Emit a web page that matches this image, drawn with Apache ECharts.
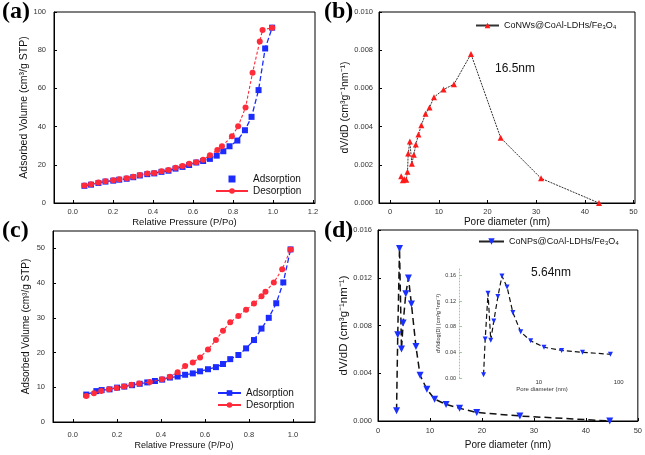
<!DOCTYPE html>
<html>
<head>
<meta charset="utf-8">
<script src="https://cdn.jsdelivr.net/npm/echarts@6/dist/echarts.min.js"></script>
<style>
html, body { margin: 0; padding: 0; background: #fff; }
#chart { width: 645px; height: 455px; }
</style>
</head>
<body>
<div id="chart"></div>
<script>
// (a) isotherm, CoNWs sample
var aAdsP = [0.058,0.091,0.128,0.163,0.202,0.232,0.269,0.302,0.335,0.372,0.407,0.443,0.478,0.513,0.548,0.581,0.617,0.651,0.685,0.719,0.752,0.783,0.822,0.860,0.893,0.928,0.961,0.996];
var aAdsV = [9.0,9.6,10.5,11.2,11.7,12.2,12.7,13.5,14.4,15.1,15.5,16.3,16.9,18.0,18.9,19.9,21.2,22.0,23.1,24.8,27.1,29.7,32.7,38.1,45.1,59.1,80.9,91.8];
var aDesP = [0.058,0.091,0.128,0.163,0.202,0.232,0.269,0.302,0.335,0.372,0.407,0.443,0.478,0.513,0.548,0.581,0.617,0.651,0.685,0.722,0.745,0.795,0.826,0.863,0.898,0.934,0.948,0.996];
var aDesV = [9.1,9.8,10.7,11.4,11.9,12.4,12.9,13.8,14.7,15.4,15.7,16.6,17.3,18.4,19.4,20.5,21.3,22.7,25.0,27.8,29.7,35.0,40.2,50.0,68.2,84.6,90.6,91.8];

// (b) pore size distribution
var bD = [2.26,2.6,2.9,3.3,3.56,3.7,4.04,4.45,4.86,5.27,5.8,6.4,7.26,8.08,9.0,10.96,13.1,16.6,22.7,31.0,42.9];
var bV = [0.0014,0.00119,0.00124,0.00122,0.00164,0.00259,0.00322,0.00206,0.00253,0.00306,0.00358,0.00407,0.00467,0.005,0.00554,0.00594,0.00622,0.0078,0.00341,0.00129,0.0];

// (c) isotherm, CoNPs sample
var cAdsP = [0.061,0.107,0.131,0.167,0.201,0.234,0.269,0.304,0.338,0.373,0.406,0.441,0.476,0.51,0.545,0.578,0.614,0.65,0.682,0.715,0.752,0.787,0.823,0.857,0.89,0.924,0.956,0.989];
var cAdsV = [7.9,8.9,9.2,9.4,9.9,10.2,10.6,11.0,11.4,11.8,12.2,12.8,13.1,13.6,14.0,14.6,15.2,15.8,16.7,18.1,19.3,21.2,23.6,26.9,30.0,34.2,40.2,49.7];
var cDesP = [0.061,0.096,0.129,0.164,0.198,0.233,0.266,0.301,0.35,0.405,0.441,0.476,0.51,0.545,0.578,0.614,0.65,0.682,0.715,0.752,0.787,0.823,0.857,0.875,0.913,0.951,0.989];
var cDesV = [7.5,8.3,8.9,9.4,9.8,10.2,10.7,11.1,11.5,12.3,13.0,14.3,16.1,17.1,18.6,20.9,23.6,26.3,28.7,30.5,32.3,34.1,36.2,37.5,40.2,44.0,49.7];

// (d) pore size distribution + log inset
var dD = [3.57,3.8,4.14,4.52,4.84,5.35,5.86,6.43,7.3,8.1,9.4,10.9,13.1,15.7,19.0,27.3,44.6];
var dV = [0.00086,0.00722,0.01444,0.00603,0.0082,0.01067,0.01197,0.0098,0.00625,0.00383,0.00267,0.00183,0.00139,0.00106,0.00072,0.00042,0.0];
var inD = [2.03,2.13,2.31,2.5,2.73,3.07,3.45,4.0,4.73,5.93,7.9,11.6,19.3,35.2,78.9];
var inV = [0.005,0.061,0.132,0.059,0.089,0.127,0.159,0.142,0.102,0.072,0.058,0.048,0.043,0.040,0.037];

var xTicksA = [0,0.2,0.4,0.6,0.8,1.0,1.2];
var xTicksC = [0,0.2,0.4,0.6,0.8,1.0];
var xTicksPore = [0,10,20,30,40,50];
var yTicksC = [0,10,20,30,40,50];
var yTicksInset = [0,0.04,0.08,0.12,0.16];
var xTicksInset = [10,100];

var nameB = 'CoNWs@CoAl-LDHs/Fe\u2083O\u2084';
var nameD = 'CoNPs@CoAl-LDHs/Fe\u2083O\u2084';

function zip(xs, ys) {
  return xs.map(function (x, i) { return [x, ys[i]]; });
}

var FONT = 'Liberation Sans';

function axis(o) {
  var a = {
    type: 'value',
    nameLocation: 'middle',
    nameTextStyle: { fontFamily: FONT, fontSize: 10, color: '#111' },
    axisLine: { onZero: false, lineStyle: { color: '#000', width: 1 } },
    axisTick: { inside: true, length: 3, lineStyle: { color: '#000' } },
    axisLabel: { fontFamily: FONT, fontSize: 7.5, color: '#333', margin: 5 },
    splitLine: { show: false }
  };
  for (var k in o) {
    if (typeof o[k] === 'object' && a[k] && !Array.isArray(o[k])) {
      a[k] = Object.assign({}, a[k], o[k]);
    } else {
      a[k] = o[k];
    }
  }
  return a;
}

var chartDom = document.getElementById('chart');
var myChart = echarts.init(chartDom);
var option;

option = {
  animation: false,
  backgroundColor: '#fff',
  title: [
    { text: '(a)', left: 2, top: 0, padding: 0, textStyle: { fontFamily: 'Liberation Serif', fontWeight: 'bold', fontSize: 24, color: '#000' } },
    { text: '(b)', left: 324, top: 0, padding: 0, textStyle: { fontFamily: 'Liberation Serif', fontWeight: 'bold', fontSize: 24, color: '#000' } },
    { text: '(c)', left: 2, top: 219, padding: 0, textStyle: { fontFamily: 'Liberation Serif', fontWeight: 'bold', fontSize: 24, color: '#000' } },
    { text: '(d)', left: 324, top: 219, padding: 0, textStyle: { fontFamily: 'Liberation Serif', fontWeight: 'bold', fontSize: 24, color: '#000' } },
    { text: '16.5nm', left: 495, top: 63, padding: 0, textStyle: { fontFamily: FONT, fontWeight: 'normal', fontSize: 12, color: '#111' } },
    { text: '5.64nm', left: 531, top: 267, padding: 0, textStyle: { fontFamily: FONT, fontWeight: 'normal', fontSize: 12, color: '#111' } }
  ],
  legend: [
    {
      data: [{ name: 'Adsorption', icon: 'path://M0,0H1V1H0Z' }, 'Desorption'],
      orient: 'vertical', left: 215, top: 174, padding: 0, itemGap: 2,
      itemWidth: 32, itemHeight: 7,
      lineStyle: { type: 'solid' },
      textStyle: { fontFamily: FONT, fontSize: 10, color: '#111' }
    },
    {
      data: [nameB],
      left: 475, top: 21, padding: 0,
      itemWidth: 23, itemHeight: 7,
      lineStyle: { type: 'solid', color: '#333' },
      textStyle: { fontFamily: FONT, fontSize: 9, color: '#111' }
    },
    {
      data: ['Adsorption (c)', 'Desorption (c)'],
      formatter: function (n) { return n.replace(' (c)', ''); },
      orient: 'vertical', left: 217, top: 388, padding: 0, itemGap: 2,
      itemWidth: 23, itemHeight: 7,
      lineStyle: { type: 'solid' },
      textStyle: { fontFamily: FONT, fontSize: 10, color: '#111' }
    },
    {
      data: [nameD],
      left: 478, top: 237, padding: 0,
      itemWidth: 25, itemHeight: 8,
      lineStyle: { type: 'solid', color: '#222' },
      textStyle: { fontFamily: FONT, fontSize: 9, color: '#111' }
    }
  ],
  grid: [
    { left: 54, top: 12, width: 261, height: 191, show: true, borderColor: '#000', borderWidth: 1 },
    { left: 379, top: 12, width: 256, height: 191, show: true, borderColor: '#000', borderWidth: 1 },
    { left: 53, top: 231, width: 262, height: 191, show: true, borderColor: '#000', borderWidth: 1 },
    { left: 378, top: 230, width: 261, height: 191, show: true, borderColor: '#000', borderWidth: 1 },
    { left: 459, top: 269, width: 166, height: 109 }
  ],
  xAxis: [
    axis({ gridIndex: 0, min: -0.094, max: 1.21, name: 'Relative Pressure (P/Po)', nameGap: 12,
      nameTextStyle: { fontSize: 9.5 },
      axisTick: { customValues: xTicksA },
      axisLabel: { customValues: xTicksA, formatter: function (v) { return v.toFixed(1); } } }),
    axis({ gridIndex: 1, min: -2.3, max: 50.3, name: 'Pore diameter (nm)', nameGap: 12,
      axisTick: { customValues: xTicksPore },
      axisLabel: { customValues: xTicksPore } }),
    axis({ gridIndex: 2, min: -0.09, max: 1.1, name: 'Relative Pressure (P/Po)', nameGap: 19,
      nameTextStyle: { fontSize: 9 },
      axisTick: { customValues: xTicksC },
      axisLabel: { customValues: xTicksC, margin: 9, formatter: function (v) { return v.toFixed(1); } } }),
    axis({ gridIndex: 3, min: 0, max: 50, interval: 10, name: 'Pore diameter (nm)', nameGap: 19,
      nameTextStyle: { fontSize: 10 },
      axisLabel: { margin: 6 } }),
    axis({ gridIndex: 4, type: 'log', logBase: 10, min: 1, max: 120, name: 'Pore diameter (nm)', nameGap: 6,
      nameTextStyle: { fontSize: 6, color: '#333' },
      axisLine: { show: false }, axisTick: { show: false },
      axisLabel: { customValues: xTicksInset, fontSize: 6, margin: 1 } })
  ],
  yAxis: [
    axis({ gridIndex: 0, min: 0, max: 100, interval: 20, name: 'Adsorbed Volume (cm\u00b3/g STP)', nameGap: 21,
      nameTextStyle: { fontSize: 10.5 }, axisLabel: { margin: 8 } }),
    axis({ gridIndex: 1, min: 0, max: 0.010, interval: 0.002, name: 'dV/dD (cm\u00b3g\u207b\u00b9nm\u207b\u00b9)', nameGap: 24,
      nameTextStyle: { fontSize: 10.5 },
      axisLabel: { margin: 6, formatter: function (v) { return v.toFixed(3); } } }),
    axis({ gridIndex: 2, min: 0, max: 55, name: 'Adsorbed Volume (cm\u00b3/g STP)', nameGap: 22,
      nameTextStyle: { fontSize: 10 },
      axisTick: { customValues: yTicksC },
      axisLabel: { customValues: yTicksC, margin: 8 } }),
    axis({ gridIndex: 3, min: 0, max: 0.016, interval: 0.004, name: 'dV/dD (cm\u00b3g\u207b\u00b9nm\u207b\u00b9)', nameGap: 28,
      nameTextStyle: { fontSize: 11.5 },
      axisLabel: { margin: 6, formatter: function (v) { return v.toFixed(3); } } }),
    axis({ gridIndex: 4, min: 0, max: 0.17, name: 'dV/dlog(D) (cm\u00b3g\u207b\u00b9nm\u207b\u00b9)', nameGap: 14,
      nameTextStyle: { fontSize: 5.5, color: '#333' },
      axisLine: { lineStyle: { color: '#9c9', type: [1, 2] } },
      axisTick: { customValues: yTicksInset, lineStyle: { color: '#9c9' } },
      axisLabel: { customValues: yTicksInset, fontSize: 5.5, margin: 3, formatter: function (v) { return v.toFixed(2); } } })
  ],
  series: [
    { type: 'line', name: 'Adsorption', xAxisIndex: 0, yAxisIndex: 0, data: zip(aAdsP, aAdsV),
      symbol: 'rect', symbolSize: 6, itemStyle: { color: '#1c2cff' },
      lineStyle: { color: '#1c2cff', width: 1.3, type: 'dashed' }, z: 2 },
    { type: 'line', name: 'Desorption', xAxisIndex: 0, yAxisIndex: 0, data: zip(aDesP, aDesV),
      symbol: 'circle', symbolSize: 6, itemStyle: { color: '#ff2a3a' },
      lineStyle: { color: '#ff2a3a', width: 1.1, type: [3, 2] }, z: 3 },
    { type: 'line', name: nameB, xAxisIndex: 1, yAxisIndex: 1, data: zip(bD, bV),
      symbol: 'triangle', symbolSize: 6, itemStyle: { color: '#ff1a1a' },
      lineStyle: { color: '#333', width: 1, type: [2, 1] } },
    { type: 'line', name: 'Adsorption (c)', xAxisIndex: 2, yAxisIndex: 2, data: zip(cAdsP, cAdsV),
      symbol: 'rect', symbolSize: 6, itemStyle: { color: '#1c2cff' },
      lineStyle: { color: '#1c2cff', width: 1.3, type: 'dashed' }, z: 2 },
    { type: 'line', name: 'Desorption (c)', xAxisIndex: 2, yAxisIndex: 2, data: zip(cDesP, cDesV),
      symbol: 'circle', symbolSize: 6, itemStyle: { color: '#ff2a3a' },
      lineStyle: { color: '#ff2a3a', width: 1.1, type: [3, 2] }, z: 3 },
    { type: 'line', name: nameD, xAxisIndex: 3, yAxisIndex: 3, data: zip(dD, dV),
      symbol: 'triangle', symbolRotate: 180, symbolSize: 7, itemStyle: { color: '#1a30ff' },
      lineStyle: { color: '#111', width: 1.5, type: [7, 4] } },
    { type: 'line', name: 'inset', xAxisIndex: 4, yAxisIndex: 4, data: zip(inD, inV),
      symbol: 'triangle', symbolRotate: 180, symbolSize: 5, itemStyle: { color: '#1a30ff' },
      lineStyle: { color: '#111', width: 1.2, type: [5, 3] } }
  ]
};

option && myChart.setOption(option);
</script>
</body>
</html>
